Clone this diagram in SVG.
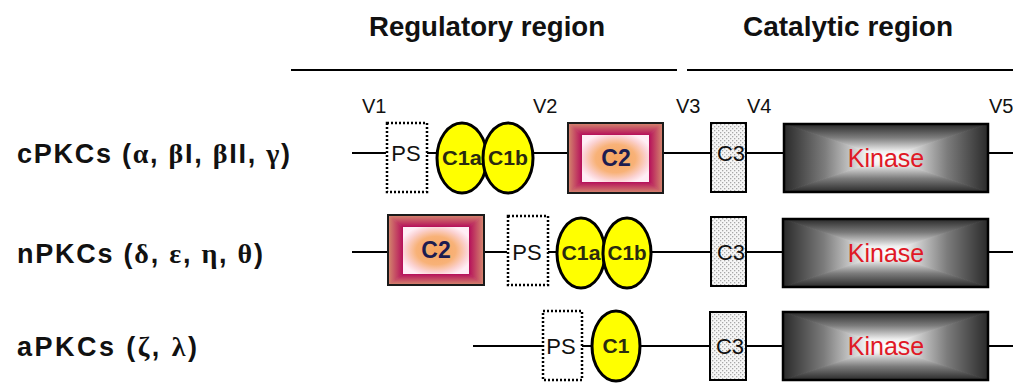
<svg xmlns="http://www.w3.org/2000/svg" width="1013" height="385" viewBox="0 0 1013 385">
<style>
.hdr{font-family:"Liberation Sans",Arial,sans-serif;font-weight:bold;font-size:28px;fill:#111}
.v{font-family:"Liberation Sans",Arial,sans-serif;font-size:20px;fill:#111}
.fam{font-family:"Liberation Sans",Arial,sans-serif;font-weight:bold;font-size:27px;fill:#111}
.gr{font-family:"Liberation Serif","Times New Roman",serif;font-weight:bold;font-size:28px}
.lbl{font-family:"Liberation Sans",Arial,sans-serif;font-size:22px;fill:#111;text-anchor:middle}
.c1t{font-family:"Liberation Sans",Arial,sans-serif;font-weight:bold;font-size:21px;fill:#2a2a10;text-anchor:middle}
.c2t{font-family:"Liberation Sans",Arial,sans-serif;font-weight:bold;font-size:23px;fill:#1c1c50;text-anchor:middle}
.kt{font-family:"Liberation Sans",Arial,sans-serif;font-size:25px;fill:#e01825;text-anchor:middle}
.ln{stroke:#000;stroke-width:2;fill:none}
.ps{fill:#fff;stroke:#000;stroke-width:2.5;stroke-dasharray:2 2}
.c1{fill:#ffff00;stroke:#000;stroke-width:3}
.c3{fill:url(#dots);stroke:#000;stroke-width:2}
.c2b{fill:none;stroke:#1a1a1a;stroke-width:2}
.c2i{fill:url(#c2in)}
.kb{fill:none;stroke:#000;stroke-width:2.5}
.t{stroke:url(#kT);fill:url(#kT);stroke-width:1}
.b{stroke:url(#kB);fill:url(#kB);stroke-width:1}
.l{stroke:url(#kL);fill:url(#kL);stroke-width:1}
.r{stroke:url(#kR);fill:url(#kR);stroke-width:1}
.bt{fill:url(#bT);stroke:url(#bT);stroke-width:0.8}
.bb{fill:url(#bB);stroke:url(#bB);stroke-width:0.8}
.bl{fill:url(#bL);stroke:url(#bL);stroke-width:0.8}
.br{fill:url(#bR);stroke:url(#bR);stroke-width:0.8}
</style>
<defs>
<pattern id="dots" patternUnits="userSpaceOnUse" width="4" height="4">
<rect width="4" height="4" fill="#f6f6f6"/>
<rect x="0" y="0" width="1.3" height="1.3" fill="#a8a8a8"/>
<rect x="2" y="2" width="1.3" height="1.3" fill="#a8a8a8"/>
</pattern>
<radialGradient id="c2in" cx="0.5" cy="0.5" r="0.6">
<stop offset="0" stop-color="#f6a560"/>
<stop offset="0.5" stop-color="#f8b278"/>
<stop offset="0.78" stop-color="#fbd2d2"/>
<stop offset="0.95" stop-color="#ffeef5"/>
</radialGradient>
<linearGradient id="bT" x1="0" y1="0" x2="0" y2="1"><stop offset="0" stop-color="#d58a6e"/><stop offset="1" stop-color="#b50f5a"/></linearGradient>
<linearGradient id="bB" x1="0" y1="1" x2="0" y2="0"><stop offset="0" stop-color="#d58a6e"/><stop offset="1" stop-color="#b50f5a"/></linearGradient>
<linearGradient id="bL" x1="0" y1="0" x2="1" y2="0"><stop offset="0" stop-color="#d58a6e"/><stop offset="1" stop-color="#b50f5a"/></linearGradient>
<linearGradient id="bR" x1="1" y1="0" x2="0" y2="0"><stop offset="0" stop-color="#d58a6e"/><stop offset="1" stop-color="#b50f5a"/></linearGradient>
<linearGradient id="kT" x1="0" y1="0" x2="0" y2="1">
<stop offset="0" stop-color="#2a2a2a"/><stop offset="0.4" stop-color="#7c7c7c"/><stop offset="0.8" stop-color="#efefef"/><stop offset="1" stop-color="#ffffff"/>
</linearGradient>
<linearGradient id="kB" x1="0" y1="1" x2="0" y2="0">
<stop offset="0" stop-color="#2a2a2a"/><stop offset="0.4" stop-color="#7c7c7c"/><stop offset="0.8" stop-color="#efefef"/><stop offset="1" stop-color="#ffffff"/>
</linearGradient>
<linearGradient id="kL" x1="0" y1="0" x2="1" y2="0">
<stop offset="0" stop-color="#2a2a2a"/><stop offset="0.4" stop-color="#7c7c7c"/><stop offset="0.8" stop-color="#efefef"/><stop offset="1" stop-color="#ffffff"/>
</linearGradient>
<linearGradient id="kR" x1="1" y1="0" x2="0" y2="0">
<stop offset="0" stop-color="#2a2a2a"/><stop offset="0.4" stop-color="#7c7c7c"/><stop offset="0.8" stop-color="#efefef"/><stop offset="1" stop-color="#ffffff"/>
</linearGradient>
</defs>
<rect width="1013" height="385" fill="#fff"/>

<g id="headers">
<text class="hdr" x="487" y="36" text-anchor="middle" textLength="236" lengthAdjust="spacingAndGlyphs">Regulatory region</text>
<text class="hdr" x="848" y="36" text-anchor="middle" textLength="210" lengthAdjust="spacingAndGlyphs">Catalytic region</text>
<line class="ln" x1="291" y1="70" x2="677" y2="70"/>
<line class="ln" x1="687" y1="70" x2="1013" y2="70"/>
<text class="v" x="362" y="113">V1</text>
<text class="v" x="533" y="113">V2</text>
<text class="v" x="676" y="113">V3</text>
<text class="v" x="747" y="113">V4</text>
<text class="v" x="989" y="113">V5</text>
</g>

<g id="family-labels">
<text class="fam" x="17" y="163" textLength="273" lengthAdjust="spacing">cPKCs (<tspan class="gr">α</tspan>, <tspan class="gr">β</tspan>I, <tspan class="gr">β</tspan>II, <tspan class="gr">γ</tspan>)</text>
<text class="fam" x="17" y="263" textLength="246" lengthAdjust="spacing">nPKCs (<tspan class="gr">δ</tspan>, <tspan class="gr">ε</tspan>, <tspan class="gr">η</tspan>, <tspan class="gr">θ</tspan>)</text>
<text class="fam" x="17" y="356" textLength="180" lengthAdjust="spacing">aPKCs (<tspan class="gr">ζ</tspan>, <tspan class="gr">λ</tspan>)</text>
</g>

<g id="connectors">
<line class="ln" x1="352" y1="153" x2="386" y2="153"/>
<line class="ln" x1="427" y1="153" x2="438" y2="153"/>
<line class="ln" x1="532" y1="153" x2="568" y2="153"/>
<line class="ln" x1="663" y1="153" x2="711" y2="153"/>
<line class="ln" x1="746" y1="153" x2="784" y2="153"/>
<line class="ln" x1="988" y1="153" x2="1013" y2="153"/>
<line class="ln" x1="352" y1="252" x2="387" y2="252"/>
<line class="ln" x1="484" y1="252" x2="507" y2="252"/>
<line class="ln" x1="548" y1="252" x2="558" y2="252"/>
<line class="ln" x1="650" y1="252" x2="711" y2="252"/>
<line class="ln" x1="746" y1="252" x2="783" y2="252"/>
<line class="ln" x1="988" y1="252" x2="1013" y2="252"/>
<line class="ln" x1="473" y1="346" x2="543" y2="346"/>
<line class="ln" x1="582" y1="346" x2="592" y2="346"/>
<line class="ln" x1="640" y1="346" x2="710" y2="346"/>
<line class="ln" x1="746" y1="346" x2="783" y2="346"/>
<line class="ln" x1="988" y1="346" x2="1013" y2="346"/>
</g>

<!-- cPKC row -->
<g id="c-ps"><rect class="ps" x="387" y="123" width="40" height="69"/><text class="lbl" x="406" y="161">PS</text></g>
<g id="c-c1a"><ellipse class="c1" cx="462" cy="158" rx="25" ry="35"/><text class="c1t" x="462" y="165" textLength="40" lengthAdjust="spacingAndGlyphs">C1a</text></g>
<g id="c-c1b"><ellipse class="c1" cx="508" cy="158" rx="25" ry="35"/><text class="c1t" x="508" y="165" textLength="40" lengthAdjust="spacingAndGlyphs">C1b</text></g>
<g id="c-c2">
<polygon class="bt" points="568,123 663,123 649,135 582,135"/>
<polygon class="bb" points="568,193 663,193 649,182 582,182"/>
<polygon class="bl" points="568,123 582,135 582,182 568,193"/>
<polygon class="br" points="663,123 649,135 649,182 663,193"/>
<rect class="c2i" x="582" y="135" width="67" height="47"/>
<rect class="c2b" x="568" y="123" width="95" height="70"/>
<text class="c2t" x="616" y="166">C2</text></g>
<g id="c-c3"><rect class="c3" x="711" y="123" width="35" height="69"/><text class="lbl" x="731" y="161">C3</text></g>
<g id="c-kinase">
<polygon class="t" points="784,124 988,124 886,158"/>
<polygon class="b" points="784,192 988,192 886,158"/>
<polygon class="l" points="784,124 784,192 886,158"/>
<polygon class="r" points="988,124 988,192 886,158"/>
<rect class="kb" x="784" y="124" width="204" height="68"/>
<text class="kt" x="886" y="167">Kinase</text>
</g>

<!-- nPKC row -->
<g id="n-c2">
<polygon class="bt" points="388,215 484,215 469,227 403,227"/>
<polygon class="bb" points="388,285 484,285 469,274 403,274"/>
<polygon class="bl" points="388,215 403,227 403,274 388,285"/>
<polygon class="br" points="484,215 469,227 469,274 484,285"/>
<rect class="c2i" x="403" y="227" width="66" height="47"/>
<rect class="c2b" x="388" y="215" width="96" height="70"/>
<text class="c2t" x="436" y="258">C2</text></g>
<g id="n-ps"><rect class="ps" x="508" y="216" width="40" height="69"/><text class="lbl" x="527" y="260">PS</text></g>
<g id="n-c1a"><ellipse class="c1" cx="581" cy="253" rx="24" ry="35"/><text class="c1t" x="581" y="260" textLength="39" lengthAdjust="spacingAndGlyphs">C1a</text></g>
<g id="n-c1b"><ellipse class="c1" cx="627" cy="253" rx="24" ry="35"/><text class="c1t" x="627" y="260" textLength="39" lengthAdjust="spacingAndGlyphs">C1b</text></g>
<g id="n-c3"><rect class="c3" x="711" y="217" width="35" height="69"/><text class="lbl" x="731" y="260">C3</text></g>
<g id="n-kinase">
<polygon class="t" points="783,219 988,219 885.5,253"/>
<polygon class="b" points="783,287 988,287 885.5,253"/>
<polygon class="l" points="783,219 783,287 885.5,253"/>
<polygon class="r" points="988,219 988,287 885.5,253"/>
<rect class="kb" x="783" y="219" width="205" height="68"/>
<text class="kt" x="886" y="262">Kinase</text>
</g>

<!-- aPKC row -->
<g id="a-ps"><rect class="ps" x="543" y="311" width="39" height="69"/><text class="lbl" x="561" y="354">PS</text></g>
<g id="a-c1"><ellipse class="c1" cx="616" cy="346" rx="24" ry="35"/><text class="c1t" x="616" y="353">C1</text></g>
<g id="a-c3"><rect class="c3" x="710" y="312" width="36" height="68"/><text class="lbl" x="730" y="354">C3</text></g>
<g id="a-kinase">
<polygon class="t" points="783,312 988,312 885.5,346"/>
<polygon class="b" points="783,380 988,380 885.5,346"/>
<polygon class="l" points="783,312 783,380 885.5,346"/>
<polygon class="r" points="988,312 988,380 885.5,346"/>
<rect class="kb" x="783" y="312" width="205" height="68"/>
<text class="kt" x="886" y="355">Kinase</text>
</g>
</svg>
